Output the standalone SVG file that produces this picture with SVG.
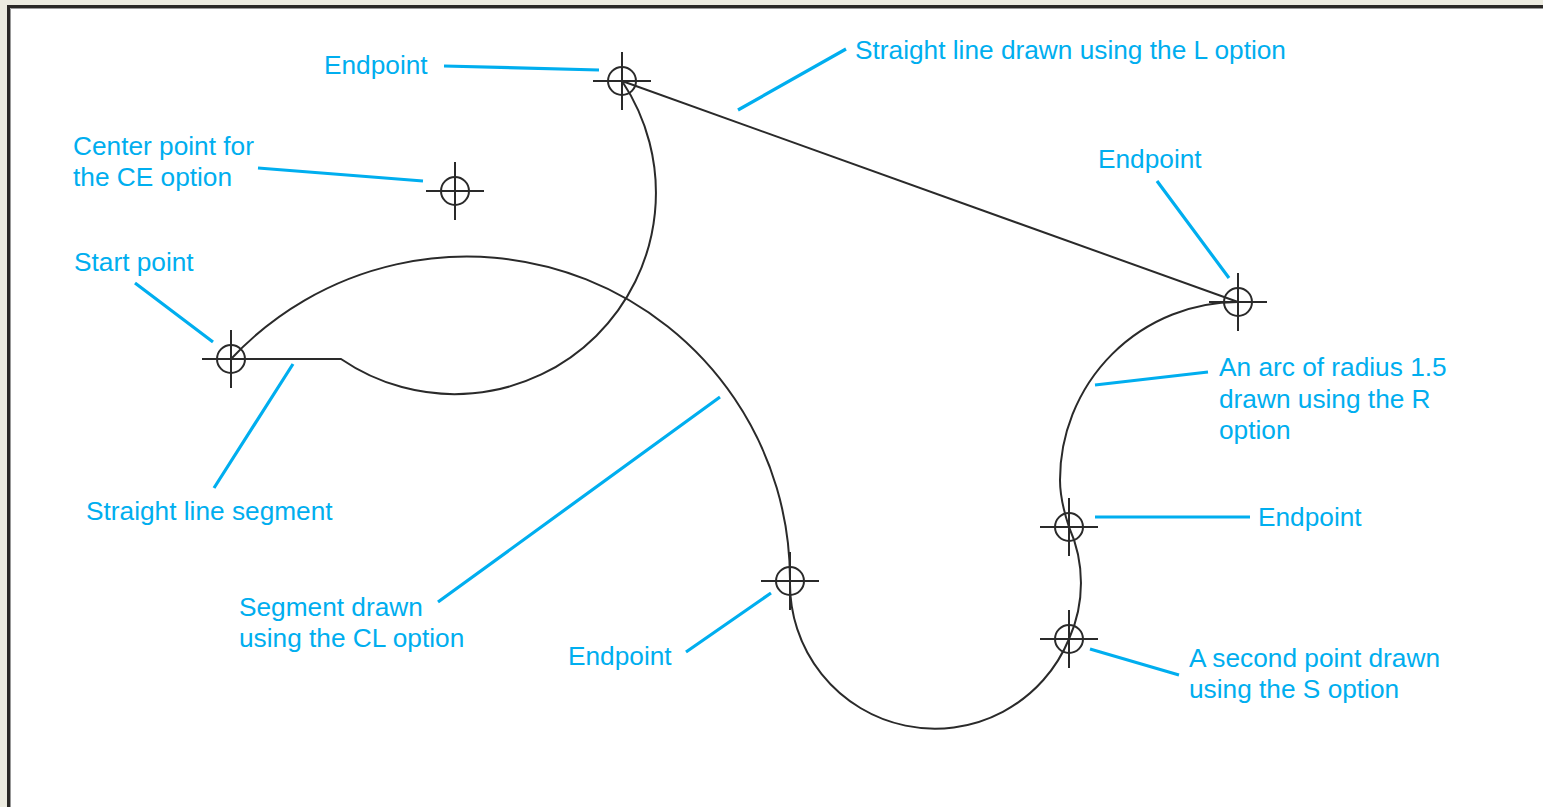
<svg xmlns="http://www.w3.org/2000/svg" width="1543" height="807" viewBox="0 0 1543 807">
<style>
text{font-family:"Liberation Sans",Arial,sans-serif;font-size:26.25px;fill:#00aeef}
.c{fill:none;stroke:#2a2a2a;stroke-width:2}
.m{fill:none;stroke:#2a2a2a;stroke-width:2}
.l{fill:none;stroke:#00aeef;stroke-width:3.2}
</style>
<defs><g id="pt"><circle r="14" class="m"/><path d="M-29 0H29M0-29V29" class="m"/></g></defs>
<rect width="1543" height="807" fill="#fff"/>
<path d="M0 0H1543V5H7V807H0Z" fill="#ecebe0"/>
<path d="M7 5H1543V8H10V807H7Z" fill="#2a2826"/>
<path d="M10.500 807V8.500H1543" fill="none" stroke="#999" stroke-width="1"/>
<g id="connectors">
<path class="c" d="M622 81L1238 302"/>
<path class="c" d="M622 81A201.300 201.300 0 0 1 341 359H231"/>
<path class="c" d="M231 359A323 323 0 0 1 790 581"/>
<path class="c" d="M790 581A145 145 0 0 0 1069 639A137 137 0 0 0 1069 527"/>
<path class="c" d="M1238 302A178 178 0 0 0 1060 480C1060 495 1064 512 1069 527"/>
<path class="l" d="M444 66L599 70M846 49L738 110M258 168L423 181M1157 181L1229 278M135 283L213 342M293 364L214 488M720 397L438 602M771 593L686 652M1208 372L1095 385M1095 517H1250M1090 649L1179 675"/>
</g>
<g id="n1"><use href="#pt" x="622" y="81"/><text x="324" y="74">Endpoint</text></g>
<g id="n2"><use href="#pt" x="455" y="191"/><text x="73" y="155">Center point for</text><text x="73" y="186">the CE option</text></g>
<g id="n3"><use href="#pt" x="231" y="359"/><text x="74" y="271">Start point</text></g>
<g id="n4"><use href="#pt" x="1238" y="302"/><text x="1098" y="168">Endpoint</text></g>
<g id="n5"><use href="#pt" x="1069" y="527"/><text x="1258" y="526">Endpoint</text></g>
<g id="n6"><use href="#pt" x="1069" y="639"/><text x="1189" y="667">A second point drawn</text><text x="1189" y="698">using the S option</text></g>
<g id="n7"><use href="#pt" x="790" y="581"/><text x="568" y="665">Endpoint</text></g>
<g id="labels">
<text x="855" y="59">Straight line drawn using the L option</text>
<text x="86" y="520">Straight line segment</text>
<text x="239" y="616">Segment drawn</text><text x="239" y="647">using the CL option</text>
<text x="1219" y="376">An arc of radius 1.5</text><text x="1219" y="408">drawn using the R</text><text x="1219" y="439">option</text>
</g>
</svg>
